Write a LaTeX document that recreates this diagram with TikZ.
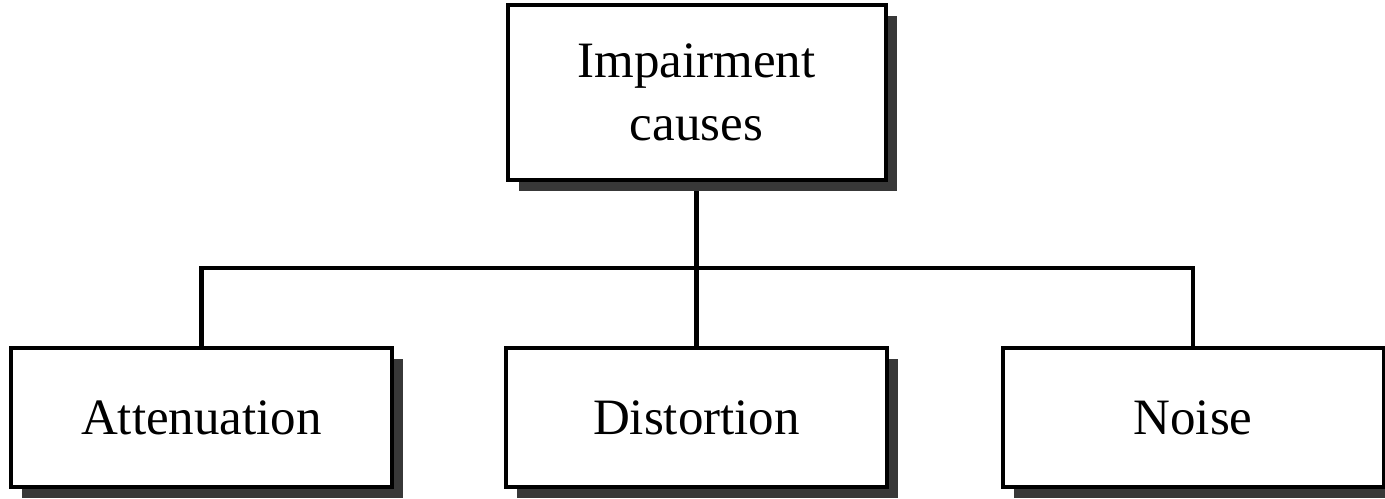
\documentclass[tikz,border=0pt]{standalone}
\usepackage{fontspec}
\setmainfont{Liberation Serif}
\usetikzlibrary{shadows,backgrounds}
\begin{document}
\begin{tikzpicture}[x=0.5pt,y=-0.5pt,
  box/.style={draw=black, line width=2pt, fill=white, align=center, inner sep=0pt,
    font=\fontsize{25.5}{31.5}\selectfont,
    drop shadow={shadow xshift=5.5pt, shadow yshift=-5.5pt, fill=black!78, opacity=1}},
  leafbox/.style={box, minimum width=190.5pt, minimum height=69.5pt},
  link/.style={line width=2.4pt, draw=black}]
\useasboundingbox (0,0) rectangle (1385,498);
\node[box, minimum width=189pt, minimum height=87.5pt] (top) at (696.5,92) {Impairment\\causes};
\node[leafbox] (att) at (201.5,417.5) {Attenuation};
\node[leafbox] (dist) at (696.5,417.5) {Distortion};
\node[leafbox] (noise) at (1193,417.5) {Noise};
\coordinate (j) at (696.5,268);
\begin{scope}[on background layer]
\draw[link] (top.south) -- (dist.north);
\draw[link] (att.north) |- (j) -| (noise.north);
\end{scope}
\end{tikzpicture}
\end{document}
